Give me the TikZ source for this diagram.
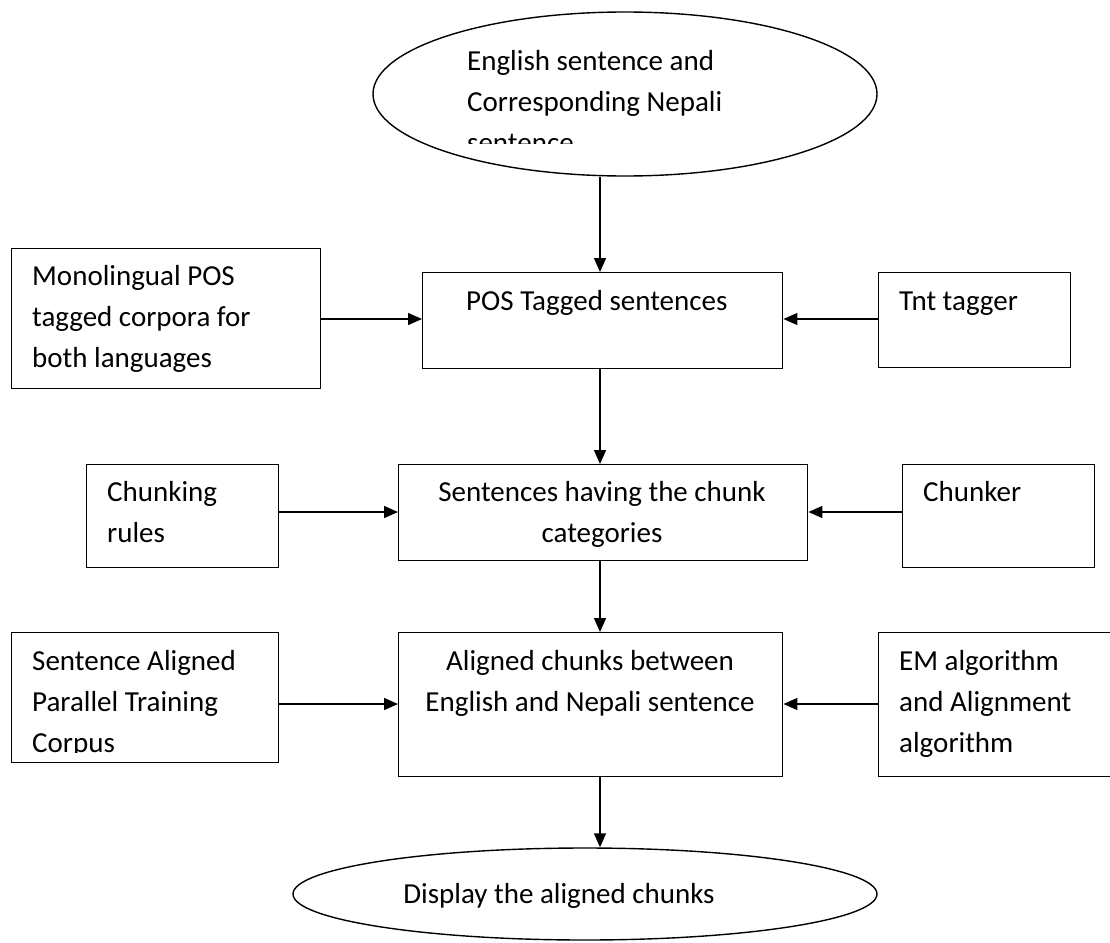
\documentclass[tikz,border=0pt]{standalone}
\usepackage{fontspec}
\setmainfont{Carlito}
\usetikzlibrary{shapes.geometric,arrows.meta,calc}
\begin{document}
\begin{tikzpicture}[x=1pt,y=-1pt,
  box/.style={draw,line width=1.4pt,rectangle,inner sep=0pt,anchor=north west},
  oval/.style={draw,line width=1.4pt,ellipse,inner sep=0pt},
  txt/.style={font=\fontsize{29}{41}\selectfont,align=left,anchor=north west,inner sep=0pt,execute at begin node={\rule{0pt}{20pt}}},
  ctxt/.style={font=\fontsize{29}{41}\selectfont,align=center,anchor=north,inner sep=0pt,execute at begin node={\rule{0pt}{20pt}}},
  arr/.style={line width=1.4pt,-{Triangle[length=14pt,width=12pt]}}]
\useasboundingbox (0,0) rectangle (1110,942);
\clip (0,0) rectangle (1110,942);
% shapes
\node[oval,minimum width=504pt,minimum height=164pt] (top) at (625,94) {};
\node[box,minimum width=309pt,minimum height=140pt] (mono) at (11,248) {};
\node[box,minimum width=360pt,minimum height=96pt] (pos) at (422,272) {};
\node[box,minimum width=192pt,minimum height=95pt] (tnt) at (878,272) {};
\node[box,minimum width=192pt,minimum height=103pt] (crules) at (86,464) {};
\node[box,minimum width=409pt,minimum height=96pt] (sent) at (398,464) {};
\node[box,minimum width=192pt,minimum height=103pt] (chunker) at (902,464) {};
\node[box,minimum width=267pt,minimum height=130pt] (corpus) at (11,632) {};
\node[box,minimum width=384pt,minimum height=144pt] (aligned) at (398,632) {};
\node[box,minimum width=260pt,minimum height=144pt] (em) at (878,632) {};
\node[oval,minimum width=584pt,minimum height=92pt] (disp) at (585,894) {};
% texts
\begin{scope}
\clip (0,0) rectangle (1110,143);
\node[txt] (ttop) at (467,50) {English sentence and\\Corresponding Nepali\\sentence};
\end{scope}
\node[txt] (tmono) at (32,265) {Monolingual POS\\tagged corpora for\\both languages};
\node[txt] (tpos) at (466,290) {POS Tagged sentences};
\node[txt] (ttnt) at (899,290) {Tnt tagger};
\node[txt] (tcrules) at (107,481) {Chunking\\rules};
\node[ctxt] (tsent) at (602,481) {Sentences having the chunk\\categories};
\node[txt] (tchunker) at (923,481) {Chunker};
\begin{scope}
\clip (0,0) rectangle (1110,752);
\node[txt] (tcorpus) at (32,650) {Sentence Aligned\\Parallel Training\\Corpus};
\end{scope}
\node[ctxt] (taligned) at (590,650) {Aligned chunks between\\English and Nepali sentence};
\node[txt] (tem) at (899,650) {EM algorithm\\and Alignment\\algorithm};
\node[ctxt] (tdisp) at (559,883) {Display the aligned chunks};
% connectors
\coordinate (ax) at (600,0);
\draw[arr] (ax |- top.south) -- (ax |- pos.north);
\draw[arr] (ax |- pos.south) -- (ax |- sent.north);
\draw[arr] (ax |- sent.south) -- (ax |- aligned.north);
\draw[arr] (ax |- aligned.south) -- (ax |- disp.north);
\draw[arr] (mono.east |- 0,319) -- (pos.west |- 0,319);
\draw[arr] (tnt.west |- 0,319) -- (pos.east |- 0,319);
\draw[arr] (crules.east |- 0,512) -- (sent.west |- 0,512);
\draw[arr] (chunker.west |- 0,512) -- (sent.east |- 0,512);
\draw[arr] (corpus.east |- 0,704) -- (aligned.west |- 0,704);
\draw[arr] (em.west |- 0,704) -- (aligned.east |- 0,704);
\end{tikzpicture}
\end{document}
